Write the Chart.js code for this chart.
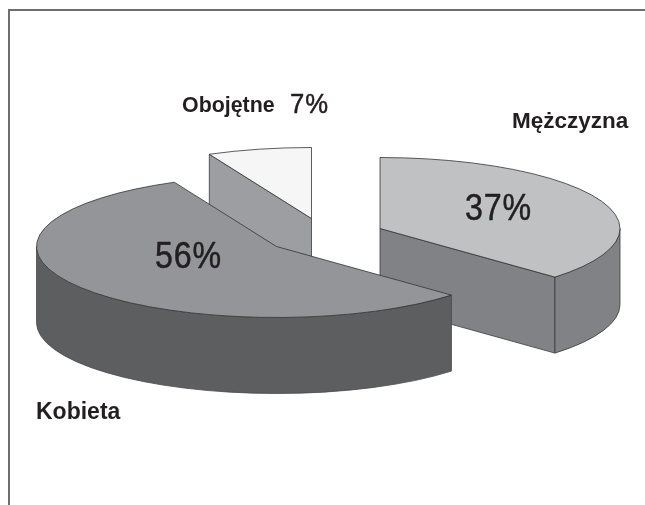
<!DOCTYPE html>
<html><head><meta charset="utf-8">
<style>html,body{margin:0;padding:0;background:#fff}canvas{display:block}</style>
<script src="https://cdn.jsdelivr.net/npm/chart.js@4"></script>
</head><body><canvas id="c" width="645" height="505"></canvas>
<script>
const categories = ['Mężczyzna', 'Kobieta', 'Obojętne'];
const shares = [37, 56, 7];
const shareLabels = ['37%', '56%', '7%'];
const topColors = ['#c0c1c3', '#939598', '#f6f6f6'];
const wallColors = ['#808285', '#5d5e60', '#9d9ea1'];

// 3D look of the exploded pie
const RADIUS = 240, TILT = 71 / 240, DEPTH = 76;
const sliceCenters = [[380, 228.5], [276.5, 246.5], [311.5, 218.5]];
const paintOrder = [2, 0, 1];

function screenFrame(ctx, arc, i) {
  ctx.translate(sliceCenters[i][0], sliceCenters[i][1]);
  ctx.scale(1, TILT);
  ctx.translate(-arc.x, -arc.y);
}
function outline(ctx, color, width) {
  ctx.strokeStyle = color; ctx.lineWidth = width; ctx.lineJoin = 'round'; ctx.stroke();
}
const pie3d = {
  id: 'pie3d',
  beforeDraw(chart) {
    const ctx = chart.ctx;
    ctx.save();
    ctx.strokeStyle = '#6d6e71'; ctx.lineWidth = 2;
    ctx.beginPath(); ctx.moveTo(9, 505); ctx.lineTo(9, 10); ctx.lineTo(645, 10); ctx.stroke();
    ctx.restore();
  },
  beforeDatasetDraw(chart, args) {
    const ctx = chart.ctx, arcs = args.meta.data;
    const d = DEPTH / TILT;
    paintOrder.forEach(i => {
      const a = arcs[i], r = a.outerRadius;
      const s = a.startAngle, e = a.endAngle;
      // radial cut face that looks towards the viewer
      if (i !== 1) {
        const ang = i === 0 ? e : s;
        ctx.save();
        screenFrame(ctx, a, i);
        ctx.beginPath();
        ctx.moveTo(a.x, a.y);
        ctx.lineTo(a.x + Math.cos(ang) * r, a.y + Math.sin(ang) * r);
        ctx.lineTo(a.x + Math.cos(ang) * r, a.y + Math.sin(ang) * r + d);
        ctx.lineTo(a.x, a.y + d);
        ctx.closePath();
        ctx.fillStyle = wallColors[i];
        ctx.fill();
        ctx.restore();
        outline(ctx, '#3a3a3c', 0.8);
      }
      // curved outer wall: only the part on the front of the ellipse
      const tau = Math.PI * 2;
      const norm = x => ((x % tau) + tau) % tau;
      let from = null, to = null;
      if (i === 0) { from = 0; to = norm(e); }
      if (i === 1) { from = norm(s); to = Math.PI; }
      if (from !== null) {
        ctx.save();
        screenFrame(ctx, a, i);
        ctx.beginPath();
        ctx.arc(a.x, a.y, r, from, to);
        ctx.arc(a.x, a.y + d, r, to, from, true);
        ctx.closePath();
        ctx.fillStyle = wallColors[i];
        ctx.fill();
        ctx.restore();
        outline(ctx, i === 1 ? '#4a4a4c' : '#3a3a3c', 0.8);
      }
      // top face, through the library's arc element
      ctx.save();
      screenFrame(ctx, a, i);
      a.draw(ctx);
      ctx.beginPath();
      ctx.moveTo(a.x, a.y);
      ctx.arc(a.x, a.y, r, s, e);
      ctx.closePath();
      ctx.restore();
      outline(ctx, '#333335', 0.8);
    });
    return false;
  },
  afterDraw(chart) {
    const ctx = chart.ctx;
    ctx.save();
    ctx.fillStyle = '#231f20';
    ctx.strokeStyle = '#231f20';
    ctx.lineWidth = 0.5;
    ctx.textBaseline = 'alphabetic';
    ctx.textAlign = 'left';
    const put = (t, x, y, font, sp, hs, heavy) => {
      ctx.save();
      ctx.translate(x, y);
      ctx.scale(hs || 1, 1);
      ctx.font = font;
      ctx.letterSpacing = sp || '0px';
      ctx.fillText(t, 0, 0);
      if (heavy) ctx.strokeText(t, 0, 0);
      ctx.restore();
    };
    const fam = '"Liberation Sans", Arial, sans-serif';
    const big = '37px ' + fam;
    put(categories[0], 512, 128, 'bold 22.5px ' + fam);
    put(categories[1], 36, 419, 'bold 23px ' + fam);
    put(categories[2], 182, 112, 'bold 21.4px ' + fam);
    put(shareLabels[2], 290, 113, '27px ' + fam, '1px', 0.95, true);
    put(shareLabels[0], 465, 220, big, '1px', 0.87, true);
    put(shareLabels[1], 155, 268, big, '1px', 0.87, true);
    ctx.restore();
  }
};

new Chart(document.getElementById('c'), {
  type: 'pie',
  data: {
    labels: categories,
    datasets: [{ data: shares, backgroundColor: topColors, borderWidth: 0, radius: RADIUS }]
  },
  options: {
    responsive: false,
    animation: false,
    rotation: 0,
    layout: { padding: 0 },
    plugins: { legend: { display: false }, tooltip: { enabled: false } }
  },
  plugins: [pie3d]
});
</script>
</body></html>
